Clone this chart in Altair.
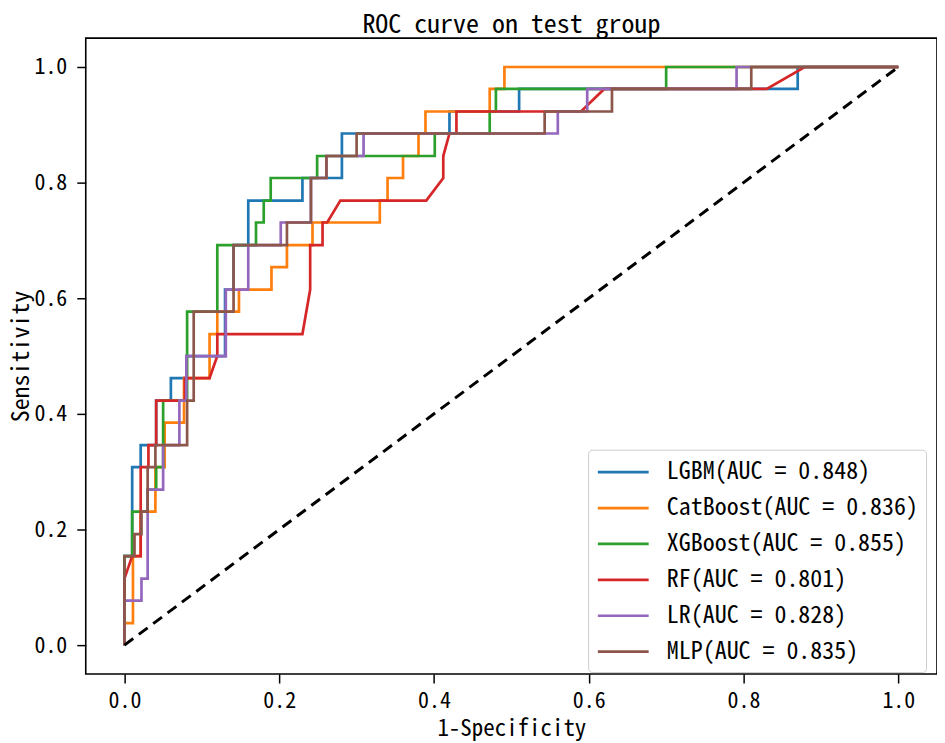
import altair as alt
import pandas as pd

# ---- data ----
models = ["LGBM", "CatBoost", "XGBoost", "RF", "LR", "MLP"]
auc = ["0.848", "0.836", "0.855", "0.801", "0.828", "0.835"]
colors = ["#1f77b4", "#ff7f0e", "#2ca02c", "#d62728", "#9467bd", "#8c564b"]

lgbm_fpr = [0, 0, 0.01, 0.01, 0.021, 0.021, 0.041, 0.041, 0.06, 0.06, 0.08, 0.08, 0.13, 0.13, 0.141, 0.141, 0.16, 0.16, 0.23, 0.23, 0.281, 0.281, 0.42, 0.42, 0.51, 0.51, 0.87, 0.87, 1]
lgbm_tpr = [0, 0.154, 0.154, 0.308, 0.308, 0.346, 0.346, 0.423, 0.423, 0.462, 0.462, 0.5, 0.5, 0.615, 0.615, 0.692, 0.692, 0.769, 0.769, 0.808, 0.808, 0.885, 0.885, 0.923, 0.923, 0.962, 0.962, 1, 1]

cat_fpr = [0, 0, 0.011, 0.011, 0.021, 0.021, 0.04, 0.04, 0.052, 0.052, 0.077, 0.077, 0.11, 0.11, 0.12, 0.12, 0.148, 0.148, 0.19, 0.19, 0.21, 0.21, 0.243, 0.243, 0.33, 0.33, 0.34, 0.34, 0.36, 0.36, 0.38, 0.38, 0.389, 0.389, 0.472, 0.472, 0.491, 0.491, 1]
cat_tpr = [0, 0.038, 0.038, 0.154, 0.154, 0.231, 0.231, 0.308, 0.308, 0.385, 0.385, 0.462, 0.462, 0.538, 0.538, 0.577, 0.577, 0.615, 0.615, 0.654, 0.654, 0.692, 0.692, 0.731, 0.731, 0.769, 0.769, 0.808, 0.808, 0.846, 0.846, 0.885, 0.885, 0.923, 0.923, 0.962, 0.962, 1, 1]

xgb_fpr = [0, 0, 0.01, 0.01, 0.03, 0.03, 0.041, 0.041, 0.05, 0.05, 0.081, 0.081, 0.12, 0.12, 0.17, 0.17, 0.18, 0.18, 0.189, 0.189, 0.249, 0.249, 0.401, 0.401, 0.472, 0.472, 0.48, 0.48, 0.70, 0.70, 1]
xgb_tpr = [0, 0.154, 0.154, 0.231, 0.231, 0.269, 0.269, 0.308, 0.308, 0.423, 0.423, 0.577, 0.577, 0.692, 0.692, 0.731, 0.731, 0.769, 0.769, 0.808, 0.808, 0.846, 0.846, 0.885, 0.885, 0.923, 0.923, 0.962, 0.962, 1, 1]

rf_fpr = [0, 0, 0.01, 0.021, 0.021, 0.031, 0.031, 0.041, 0.041, 0.078, 0.078, 0.11, 0.12, 0.12, 0.23, 0.24, 0.24, 0.256, 0.256, 0.262, 0.279, 0.39, 0.412, 0.412, 0.42, 0.429, 0.429, 0.59, 0.62, 0.83, 0.879, 1]
rf_tpr = [0, 0.115, 0.154, 0.154, 0.308, 0.308, 0.346, 0.346, 0.423, 0.423, 0.462, 0.462, 0.5, 0.538, 0.538, 0.615, 0.692, 0.692, 0.731, 0.731, 0.769, 0.769, 0.808, 0.846, 0.885, 0.885, 0.923, 0.923, 0.962, 0.962, 1, 1]

lr_fpr = [0, 0, 0.022, 0.022, 0.03, 0.03, 0.05, 0.05, 0.071, 0.071, 0.08, 0.08, 0.131, 0.131, 0.16, 0.16, 0.202, 0.202, 0.241, 0.241, 0.261, 0.261, 0.309, 0.309, 0.56, 0.56, 0.598, 0.598, 0.791, 0.791, 1]
lr_tpr = [0, 0.077, 0.077, 0.115, 0.115, 0.269, 0.269, 0.346, 0.346, 0.423, 0.423, 0.5, 0.5, 0.615, 0.615, 0.692, 0.692, 0.731, 0.731, 0.808, 0.808, 0.846, 0.846, 0.885, 0.885, 0.923, 0.923, 0.962, 0.962, 1, 1]

mlp_fpr = [0, 0, 0.013, 0.013, 0.022, 0.022, 0.03, 0.03, 0.04, 0.04, 0.081, 0.081, 0.0895, 0.0895, 0.141, 0.141, 0.21, 0.21, 0.241, 0.241, 0.261, 0.261, 0.30, 0.30, 0.543, 0.543, 0.63, 0.63, 0.81, 0.81, 1]
mlp_tpr = [0, 0.154, 0.154, 0.192, 0.192, 0.231, 0.231, 0.308, 0.308, 0.346, 0.346, 0.423, 0.423, 0.577, 0.577, 0.692, 0.692, 0.731, 0.731, 0.808, 0.808, 0.846, 0.846, 0.885, 0.885, 0.923, 0.923, 0.962, 0.962, 1, 1]

diag_fpr = [0, 1]
diag_tpr = [0, 1]

ticks = [0.0, 0.2, 0.4, 0.6, 0.8, 1.0]

# ---- build table ----
series = [
    (lgbm_fpr, lgbm_tpr), (cat_fpr, cat_tpr), (xgb_fpr, xgb_tpr),
    (rf_fpr, rf_tpr), (lr_fpr, lr_tpr), (mlp_fpr, mlp_tpr),
]
labels = [f"{m}(AUC = {a})" for m, a in zip(models, auc)]
rows = []
for si, (lab, (fx, ty)) in enumerate(zip(labels, series)):
    for i, (a, b) in enumerate(zip(fx, ty)):
        rows.append({"model": lab, "fpr": a, "tpr": b, "idx": i, "s": si})
df = pd.DataFrame(rows)
diag = pd.DataFrame({"fpr": diag_fpr, "tpr": diag_tpr})

FONT = "Noto Sans Mono CJK SC, DejaVu Sans Mono, monospace"

xscale = alt.Scale(domain=[-0.05, 1.05], nice=False, zero=False)
yscale = alt.Scale(domain=[-0.05, 1.05], nice=False, zero=False)

xaxis = alt.Axis(values=ticks, format=".1f", title="1-Specificity", grid=False,
                 titleFontSize=23, titlePadding=6, labelPadding=8)
yaxis = alt.Axis(values=ticks, format=".1f", title="Sensitivity", grid=False,
                 titleFontSize=24, titlePadding=0, labelPadding=10)

curves = alt.Chart(df).mark_line(strokeWidth=2.7, clip=True).encode(
    x=alt.X("fpr:Q", scale=xscale, axis=xaxis),
    y=alt.Y("tpr:Q", scale=yscale, axis=yaxis),
    color=alt.Color(
        "model:N",
        scale=alt.Scale(domain=labels, range=colors),
        legend=alt.Legend(
            title=None,
            orient="none",
            legendX=504,
            legendY=413,
            symbolType="M-1,0L3,0",
            symbolSize=650,
            symbolStrokeWidth=2.7,
            symbolFillColor="transparent",
            labelFont=FONT,
            labelFontSize=24,
            labelColor="black",
            labelLimit=400,
            labelOffset=42,
            rowPadding=9,
            padding=8,
            fillColor="white",
            strokeColor="#cccccc",
            cornerRadius=4,
        ),
    ),
    order=alt.Order("idx:Q"),
    detail="s:N",
)

diagonal = alt.Chart(diag).mark_line(
    color="black", strokeWidth=3, strokeDash=[11, 7]
).encode(x="fpr:Q", y="tpr:Q")

chart = alt.layer(curves, diagonal).properties(
    width=854,
    height=638,
    autosize=alt.AutoSizeParams(type="none"),
    padding={"left": 78, "top": 29, "right": 0, "bottom": 68},
    title=alt.Title(
        "ROC curve on test group",
        font=FONT,
        fontSize=26,
        fontWeight="normal",
        color="black",
        offset=0,
    ),
).configure_view(
    stroke="black", strokeWidth=1.6
).configure_axis(
    domain=False,
    ticks=True,
    tickColor="black",
    tickWidth=1.5,
    tickSize=9,
    labelFont=FONT,
    labelFontSize=22,
    labelColor="black",
    titleFont=FONT,
    titleFontWeight="normal",
    titleColor="black",
)

chart.save("out.html", embed_options={"renderer": "svg", "actions": False})
